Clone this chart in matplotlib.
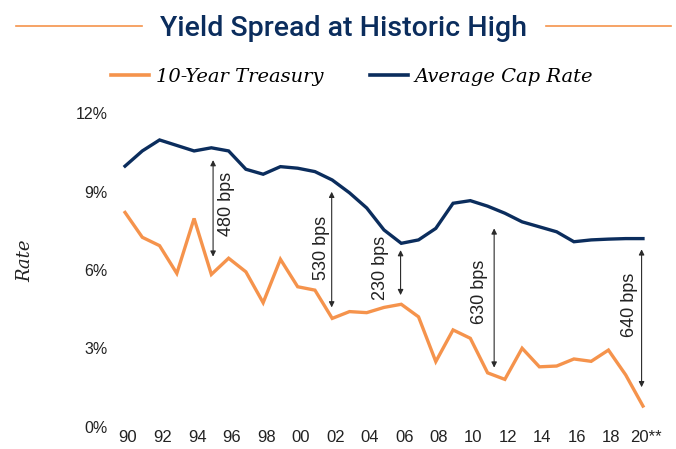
import matplotlib
matplotlib.use('Agg')
import matplotlib.pyplot as plt
import matplotlib.transforms as mtransforms
from matplotlib.lines import Line2D

# Data
years = list(range(1990, 2021))
treasury = [8.20, 7.25, 6.93, 5.87, 7.97, 5.83, 6.45, 5.93, 4.75, 6.41,
            5.36, 5.23, 4.15, 4.41, 4.37, 4.57, 4.69, 4.21, 2.50, 3.71,
            3.39, 2.07, 1.82, 3.01, 2.30, 2.33, 2.60, 2.51, 2.94, 1.99, 0.80]
cap_rate = [9.97, 10.55, 10.97, 10.76, 10.55, 10.67, 10.55, 9.85, 9.66, 9.95,
            9.89, 9.76, 9.44, 8.95, 8.37, 7.53, 7.02, 7.15, 7.59, 8.55,
            8.65, 8.44, 8.17, 7.84, 7.65, 7.46, 7.08, 7.15, 7.18, 7.20, 7.20]

tick_years = list(range(1990, 2021, 2))
tick_labels = ['90', '92', '94', '96', '98', '00', '02', '04', '06', '08',
               '10', '12', '14', '16', '18', '20**']
y_ticks = [0, 3, 6, 9, 12]
y_labels = ['0%', '3%', '6%', '9%', '12%']

# spread annotations: label, arrow year, arrow top, arrow bottom, text x, text y
spread_labels = ['480 bps', '530 bps', '230 bps', '630 bps', '640 bps']
arrow_x = [1995.1, 2001.97, 2005.96, 2011.38, 2019.92]
arrow_top = [10.2, 8.99, 6.76, 7.59, 6.79]
arrow_bottom = [6.51, 4.57, 5.04, 2.27, 1.52]
text_x = [1995.88, 2001.38, 2004.77, 2010.53, 2019.24]
text_y = [8.52, 6.84, 6.08, 5.17, 4.66]

orange = '#f5934c'
navy = '#0b2d5d'
W, H = 676, 449

fig = plt.figure(figsize=(W / 100, H / 100), dpi=100)
left_px, right_px = 116.4, 651.6
ax = fig.add_axes([left_px / W, 22 / H, (right_px - left_px) / W, 314 / H])

ax.plot(years, treasury, color=orange, lw=2.4, solid_joinstyle='miter', clip_on=False)
ax.plot(years, cap_rate, color=navy, lw=2.4, solid_joinstyle='miter', clip_on=False)

for lab, ax_x, top, bot, tx, ty in zip(spread_labels, arrow_x, arrow_top,
                                       arrow_bottom, text_x, text_y):
    ax.annotate('', xy=(ax_x, top), xytext=(ax_x, bot),
                arrowprops=dict(arrowstyle='<|-|>', color='#2a2a2a', lw=0.8,
                                mutation_scale=8, shrinkA=0, shrinkB=0))
    ax.text(tx, ty, lab, rotation=90, ha='center', va='center',
            fontsize=13, family='Liberation Sans', color='#222222')

ax.set_xlim(1989.5, 2020.5)
ax.set_ylim(0, 12)
ax.set_xticks(tick_years)
ax.set_xticklabels(tick_labels)
ax.set_yticks(y_ticks)
ax.set_yticklabels(y_labels)
ax.tick_params(length=0, labelsize=11.5, colors='#222222')
ax.tick_params(axis='x', pad=2, labelsize=12)
ax.tick_params(axis='y', pad=6.5)
for lbl in ax.get_xticklabels() + ax.get_yticklabels():
    lbl.set_family('Liberation Sans')
# nudge year labels a little to the right, as in the reference
nudge = mtransforms.ScaledTranslation(3 / 100, 0, fig.dpi_scale_trans)
for lbl in ax.get_xticklabels():
    lbl.set_transform(lbl.get_transform() + nudge)
for s in ax.spines.values():
    s.set_visible(False)

# axis title
fig.text(25.5 / W, (H - 261) / H, 'Rate', rotation=90, ha='center', va='center',
         family='DejaVu Serif', style='italic', fontsize=13, color='#222222')

# title with orange rules either side
fig.text(343.5 / W, (H - 36) / H, 'Yield Spread at Historic High', ha='center',
         va='baseline', fontsize=20.5, color=navy, family=['Roboto', 'Liberation Sans'],
         weight='medium')
for x0, x1 in [(16, 142), (546, 671)]:
    fig.add_artist(Line2D([x0 / W, x1 / W], [(H - 26) / H] * 2, color=orange, lw=1.2))

# legend
handles = [Line2D([], [], color=orange, lw=2.6),
           Line2D([], [], color=navy, lw=2.6)]
fig.legend(handles, ['10-Year Treasury', 'Average Cap Rate'], loc='center',
           bbox_to_anchor=(352 / W, (H - 77) / H), ncol=2, frameon=False,
           handlelength=1.95, handletextpad=0.35, columnspacing=2.4,
           prop=dict(family='DejaVu Serif', style='italic', size=14))

fig.savefig('out.png', dpi=100)
